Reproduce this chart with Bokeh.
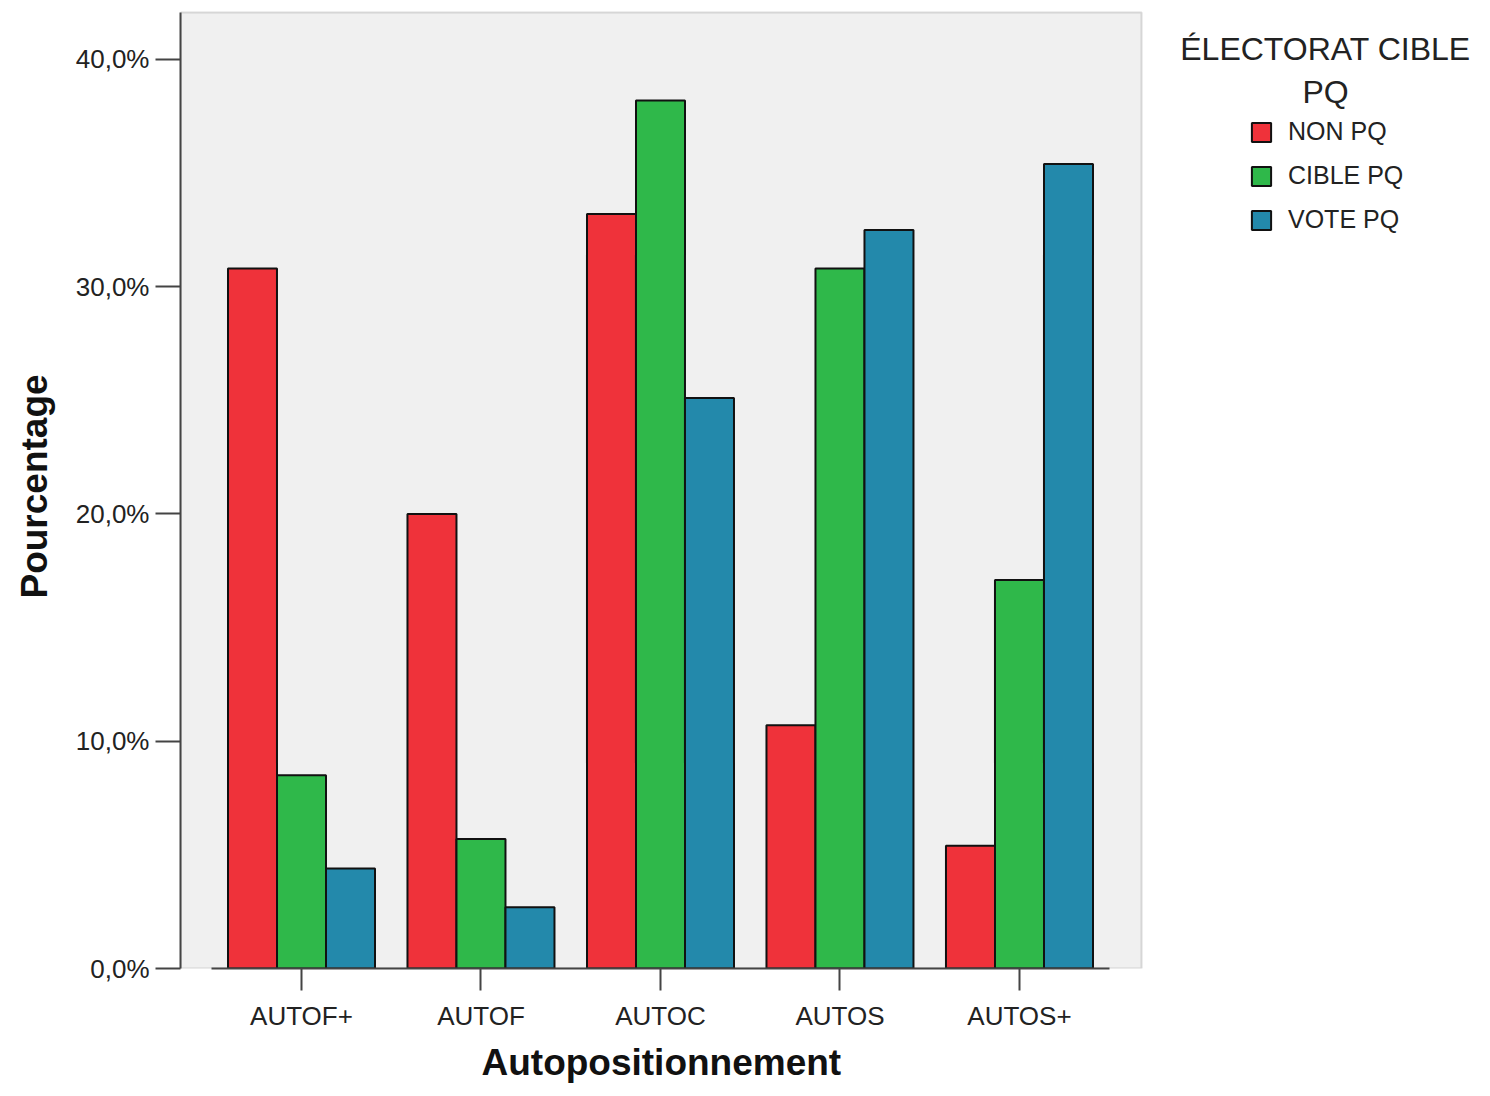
from bokeh.plotting import figure
from bokeh.models import ColumnDataSource, FixedTicker, Legend, LegendItem, Label, Range1d, BoxAnnotation, Title
from bokeh.transform import dodge
from bokeh.embed import file_html
from bokeh.resources import INLINE

categories = ["AUTOF+", "AUTOF", "AUTOC", "AUTOS", "AUTOS+"]
non_pq = [30.8, 20.0, 33.2, 10.7, 5.4]
cible_pq = [8.5, 5.7, 38.2, 30.8, 17.1]
vote_pq = [4.4, 2.7, 25.1, 32.5, 35.4]
series_names = ["NON PQ", "CIBLE PQ", "VOTE PQ"]
colors = ["#EF323A", "#2FB84A", "#2389AB"]
y_ticks = [0, 10, 20, 30, 40]
y_tick_labels = ["0,0%", "10,0%", "20,0%", "30,0%", "40,0%"]

FONT = "Liberation Sans"

# plotting-area extents (data units)
X0, X1 = 0.326, 5.68
Y1 = 42.07

xs = list(range(1, len(categories) + 1))
src = ColumnDataSource(dict(x=xs, non=non_pq, cible=cible_pq, vote=vote_pq))

p = figure(width=1474, height=1088, output_backend="svg", toolbar_location=None,
           x_range=Range1d(X0, 7.535), y_range=Range1d(0, 42.42),
           min_border_left=180, min_border_right=0, min_border_top=4, min_border_bottom=120)

p.background_fill_color = "white"
p.border_fill_color = "white"
p.outline_line_color = None
p.xgrid.visible = False
p.ygrid.visible = False

p.add_layout(BoxAnnotation(left=X0, right=X1, bottom=0, top=Y1, level="underlay",
                           fill_color="#F0F0F0", fill_alpha=1,
                           line_color="#8C8C8C", line_width=2))

bw = 0.273
renderers = []
for field, off, col in zip(["non", "cible", "vote"], [-bw, 0, bw], colors):
    r = p.vbar(x=dodge("x", off, range=p.x_range), top=field, bottom=0, width=bw, source=src,
               fill_color=col, line_color="#111111", line_width=2)
    renderers.append(r)

# axes
p.xaxis.ticker = FixedTicker(ticks=xs)
p.xaxis.major_label_overrides = {x: c for x, c in zip(xs, categories)}
p.xaxis.bounds = (0.5, 5.5)
p.yaxis.ticker = FixedTicker(ticks=y_ticks)
p.yaxis.major_label_overrides = {t: l for t, l in zip(y_ticks, y_tick_labels)}
p.yaxis.bounds = (0, Y1)

for ax in (p.xaxis[0], p.yaxis[0]):
    ax.axis_line_color = "#444444"
    ax.axis_line_width = 2
    ax.major_tick_line_color = "#444444"
    ax.major_tick_line_width = 2
    ax.major_tick_in = 0
    ax.minor_tick_line_color = None
    ax.major_label_text_font = FONT
    ax.major_label_text_font_size = "26px"
    ax.major_label_text_color = "#222222"
    ax.axis_label_text_font = FONT
    ax.axis_label_text_font_style = "bold"
    ax.axis_label_text_font_size = "37px"
    ax.axis_label_text_color = "#111111"

p.xaxis.major_tick_out = 22
p.xaxis.major_label_standoff = 10
p.yaxis.major_tick_out = 25
p.yaxis.major_label_standoff = 6
p.yaxis.axis_label = "Pourcentage"
p.yaxis.axis_label_standoff = 18

# x-axis title, centred under the category area
p.add_layout(Title(text="Autopositionnement", align="left", offset=301, standoff=12,
                   text_font=FONT, text_font_size="37px", text_font_style="bold",
                   text_color="#111111"), "below")

# legend
items = [LegendItem(label=n, renderers=[r]) for n, r in zip(series_names, renderers)]
legend = Legend(items=items, location=(1069, 734), glyph_width=24, glyph_height=24,
                label_text_font=FONT, label_text_font_size="25px", label_text_color="#222222",
                label_standoff=15, spacing=15, padding=0, margin=0,
                background_fill_alpha=0, border_line_color=None,
                label_text_baseline="middle", label_height=24)
p.add_layout(legend, "center")

for txt, yy in [("ÉLECTORAT CIBLE", 920), ("PQ", 877)]:
    p.add_layout(Label(x=1145, y=yy, x_units="screen", y_units="screen", text=txt,
                       text_font=FONT, text_font_size="32px", text_color="#222222",
                       text_align="center", text_baseline="middle"))

open("out.html", "w").write(file_html(p, INLINE))
